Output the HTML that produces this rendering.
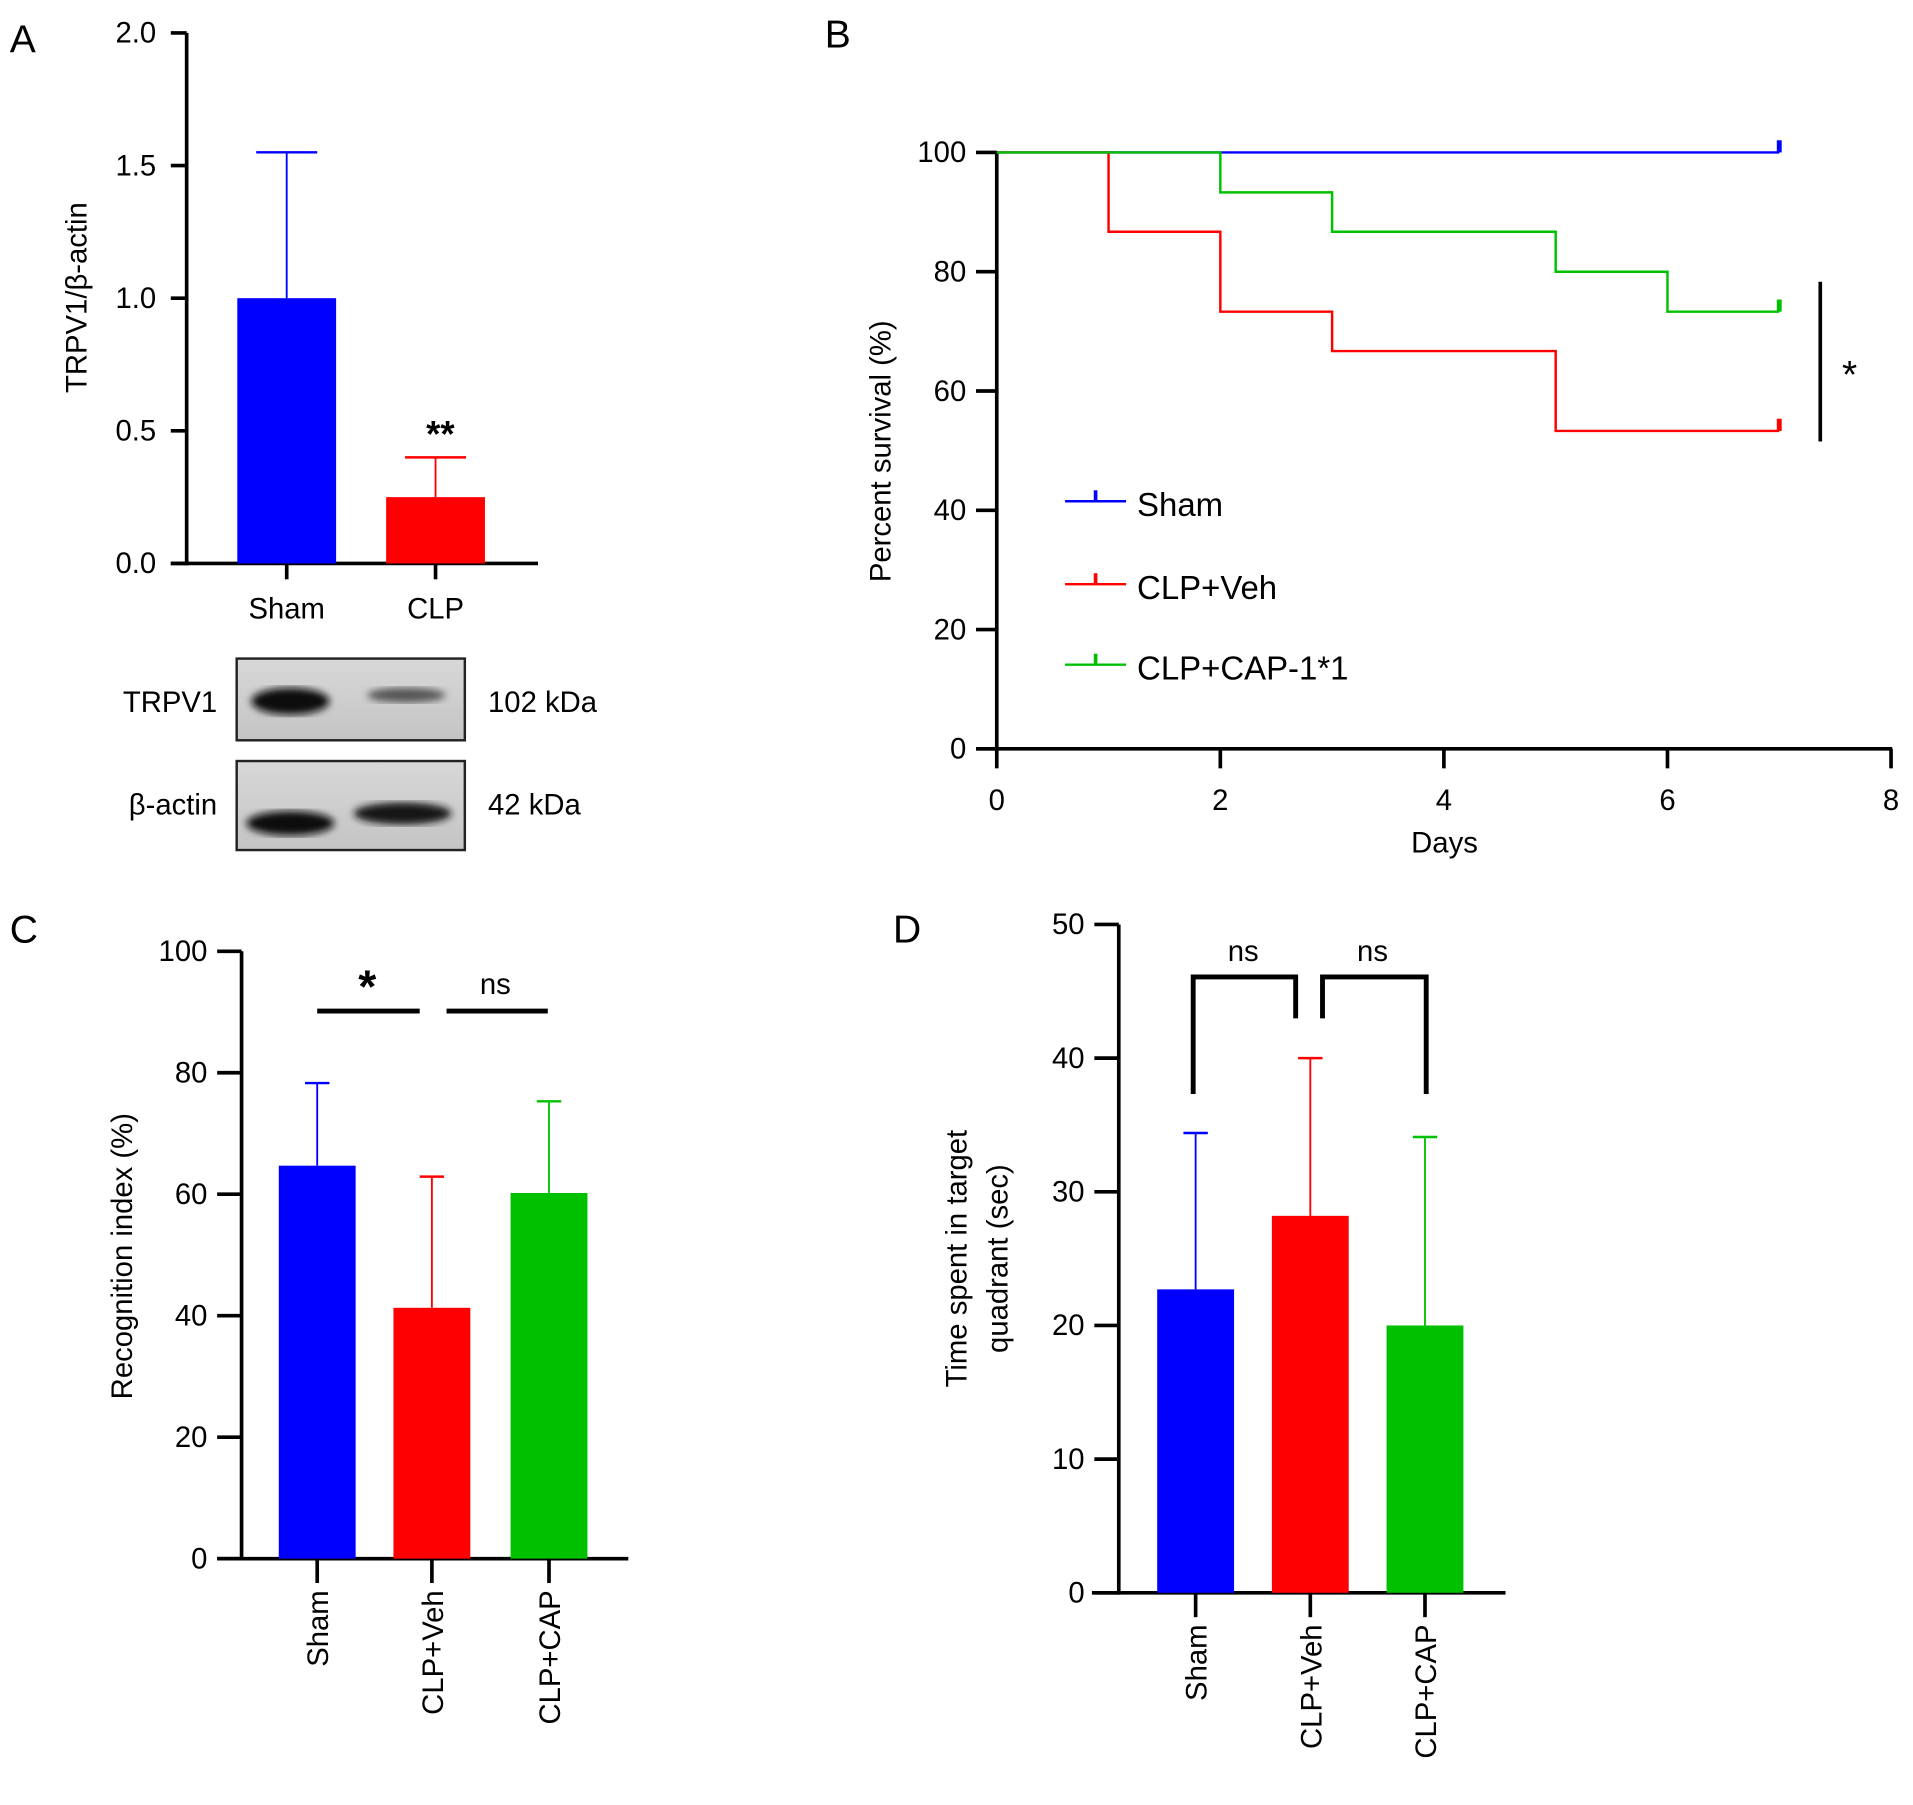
<!DOCTYPE html>
<html><head><meta charset="utf-8"><style>
html,body{margin:0;padding:0;background:#fff;}
svg{display:block;font-family:"Liberation Sans",sans-serif;}
.n{font-family:"Liberation Sans Narrow","Liberation Sans",sans-serif;}
</style></head><body>
<svg id="fig" width="1913" height="1805" viewBox="0 0 1568 1480" preserveAspectRatio="none" xmlns="http://www.w3.org/2000/svg">
<defs>
<linearGradient id="blotbg" x1="0" y1="0" x2="0" y2="1"><stop offset="0" stop-color="#d8d8d8"/><stop offset="1" stop-color="#c4c4c4"/></linearGradient>
<filter id="blur"><feGaussianBlur stdDeviation="3"/></filter>
</defs>
<text x="8" y="43" font-size="32">A</text>
<text x="676" y="39" font-size="32">B</text>
<text x="8" y="773" font-size="32">C</text>
<text x="732" y="773" font-size="32">D</text>
<g id="gA"></g>
<g>
 <rect x="194" y="540" width="187" height="67" fill="url(#blotbg)" stroke="#222" stroke-width="2"/>
 <rect x="194" y="624" width="187" height="73" fill="url(#blotbg)" stroke="#222" stroke-width="2"/>
 <ellipse cx="238" cy="575" rx="32" ry="11" fill="#111" filter="url(#blur)"/>
 <ellipse cx="333" cy="570" rx="32" ry="6" fill="#555" filter="url(#blur)"/>
 <ellipse cx="238" cy="675" rx="36" ry="10" fill="#111" filter="url(#blur)"/>
 <ellipse cx="330" cy="667" rx="40" ry="9" fill="#151515" filter="url(#blur)"/>
 <text x="178" y="584" font-size="24" text-anchor="end">TRPV1</text>
 <text x="178" y="668" font-size="24" text-anchor="end">β-actin</text>
 <text x="400" y="584" font-size="24">102 kDa</text>
 <text x="400" y="668" font-size="24">42 kDa</text>
</g>
<g id="gB"></g>
<g id="gC"></g>
<g id="gD"></g>
</svg>
<script>
// Panel A data
const aCats = ["Sham", "CLP"];
const aVals = [1.0, 0.25];
const aErr = [1.55, 0.40];
const aTicks = [0, 0.5, 1.0, 1.5, 2.0];
// Panel B data
const bDays = [0, 2, 4, 6, 8];
const bPct = [0, 20, 40, 60, 80, 100];
const shamT = [0, 7];
const shamS = [100, 100];
const vehT = [0, 1, 2, 3, 5, 7];
const vehS = [100, 86.7, 73.3, 66.7, 53.3, 53.3];
const capT = [0, 2, 3, 5, 6, 7];
const capS = [100, 93.3, 86.7, 80, 73.3, 73.3];
// Panel C data
const cCats = ["Sham", "CLP+Veh", "CLP+CAP"];
const cVals = [64.7, 41.3, 60.2];
const cErr = [78.3, 62.9, 75.3];
const cTicks = [0, 20, 40, 60, 80, 100];
// Panel D data
const dCats = ["Sham", "CLP+Veh", "CLP+CAP"];
const dVals = [22.7, 28.2, 20.0];
const dErr = [34.4, 40.0, 34.1];
const dTicks = [0, 10, 20, 30, 40, 50];

const NS = "http://www.w3.org/2000/svg";
function mk(parent, tag, attrs, text) {
  const e = document.createElementNS(NS, tag);
  for (const k in attrs) e.setAttribute(k, attrs[k]);
  if (text !== undefined) e.textContent = text;
  parent.appendChild(e);
  return e;
}
const colors = ["#0000ff", "#ff0000", "#00c000"];

function barPanel(g, o) {
  const y = v => o.y0 - (v - o.vmin) / (o.vmax - o.vmin) * (o.y0 - o.y1);
  let e = mk(g, "line", {x1:o.ax, y1:o.y1, x2:o.ax, y2:o.y0+1.5, stroke:"#000","stroke-width":3});
  
  
  e = mk(g, "line", {x1:o.xa0, y1:o.y0, x2:o.xa1, y2:o.y0, stroke:"#000","stroke-width":3});
  
  
  o.ticks.forEach(t => {
    const ty = y(t);
    let l = mk(g, "line", {x1:o.ax-o.tl, y1:ty, x2:o.ax, y2:ty, stroke:"#000","stroke-width":3});
    
    
    let tx = mk(g, "text", {x:o.ax-o.lo, y:ty+8, "font-size":o.fs, "text-anchor":"end", class:o.cls||""}, o.fmt(t));
    
    
  });
  o.cats.forEach((c, i) => {
    const cx = o.cx[i];
    const top = y(o.vals[i]), et = y(o.err[i]);
    let l = mk(g, "line", {x1:cx, y1:et, x2:cx, y2:top, stroke:colors[i], "stroke-width":1.5});
    
    
    l = mk(g, "line", {x1:cx-o.cap, y1:et, x2:cx+o.cap, y2:et, stroke:colors[i], "stroke-width":2});
    
    
    let r = mk(g, "rect", {x:cx-o.bw/2, y:top, width:o.bw, height:o.y0-top, fill:colors[i]});
    
    
    l = mk(g, "line", {x1:cx, y1:o.y0, x2:cx, y2:o.y0+o.tl, stroke:"#000","stroke-width":3});
    
    
    let t;
    if (o.rot) {
      t = mk(g, "text", {x:0, y:0, "font-size":o.fs, "text-anchor":"end", transform:`translate(${cx+9},${o.y0+26}) rotate(-90)`}, c);
    } else {
      t = mk(g, "text", {x:cx, y:o.y0+45, "font-size":o.fs, "text-anchor":"middle"}, c);
    }
    
    
  });
  return y;
}

// Panel A
(function(){
  const g = document.getElementById("gA");
  barPanel(g, {ax:153, y0:462, y1:27, vmin:0, vmax:2, xa0:140, xa1:441, ticks:aTicks, fmt:t=>t.toFixed(1), fs:24, tl:13, lo:25,
    cats:aCats, vals:aVals, err:aErr, cx:[235,357], bw:81, cap:25, rot:false});
  let t = mk(g, "text", {x:0, y:0, "font-size":24, "text-anchor":"middle", transform:"translate(71,244) rotate(-90)"}, "TRPV1/β-actin");
  
  
  t = mk(g, "text", {x:361, y:366, "font-size":30, "font-weight":"bold", "text-anchor":"middle"}, "**");
  
  
})();

// Panel B
(function(){
  const g = document.getElementById("gB");
  const X = d => 817 + d * (1550 - 817) / 8;
  const Y = p => 614 - p * (614 - 125) / 100;
  let e = mk(g, "line", {x1:817, y1:124, x2:817, y2:615, stroke:"#000","stroke-width":3});
  
  
  e = mk(g, "line", {x1:800, y1:614, x2:1551, y2:614, stroke:"#000","stroke-width":3});
  
  
  bPct.forEach(p => {
    let l = mk(g, "line", {x1:800, y1:Y(p), x2:817, y2:Y(p), stroke:"#000","stroke-width":3});
    
    
    let t = mk(g, "text", {x:792, y:Y(p)+8, "font-size":24, "text-anchor":"end", class:"n"}, p);
    
    
  });
  bDays.forEach(d => {
    let l = mk(g, "line", {x1:X(d), y1:614, x2:X(d), y2:630, stroke:"#000","stroke-width":3});
    
    
    let t = mk(g, "text", {x:X(d), y:664, "font-size":24, "text-anchor":"middle", class:"n"}, d);
    
    
  });
  let t = mk(g, "text", {x:1184, y:699, "font-size":24, "text-anchor":"middle", class:"n"}, "Days");
  
  
  t = mk(g, "text", {x:0, y:0, "font-size":24, "text-anchor":"middle", class:"n", transform:"translate(730,370) rotate(-90)"}, "Percent survival (%)");
  
  
  const series = [[shamT, shamS, "sham"], [vehT, vehS, "clp-veh"], [capT, capS, "clp-cap"]];
  series.forEach((s, i) => {
    let d = `M${X(s[0][0])},${Y(s[1][0])}`;
    for (let k = 1; k < s[0].length; k++) {
      d += ` H${X(s[0][k])} V${Y(s[1][k])}`;
    }
    let p = mk(g, "path", {d, fill:"none", stroke:colors[i], "stroke-width":2});
    
    
    const last = s[0].length - 1;
    let c = mk(g, "line", {x1:X(s[0][last]), y1:Y(s[1][last]), x2:X(s[0][last]), y2:Y(s[1][last])-10, stroke:colors[i], "stroke-width":4});
    
    
  });
  e = mk(g, "line", {x1:1492, y1:231, x2:1492, y2:362, stroke:"#000","stroke-width":3});
  
  
  t = mk(g, "text", {x:1516, y:318, "font-size":32, "text-anchor":"middle"}, "*");
  
  
  const legNames = ["Sham", "CLP+Veh", "CLP+CAP-1*1"];
  const legY = [411, 479, 545];
  legNames.forEach((n, i) => {
    let l = mk(g, "line", {x1:873, y1:legY[i], x2:923, y2:legY[i], stroke:colors[i], "stroke-width":2});
    
    
    l = mk(g, "line", {x1:898, y1:legY[i], x2:898, y2:legY[i]-9, stroke:colors[i], "stroke-width":3});
    
    
    let tt = mk(g, "text", {x:932, y:legY[i]+12, "font-size":27, class:"n"}, n);
    
    
  });
})();

// Panel C
(function(){
  const g = document.getElementById("gC");
  barPanel(g, {ax:198, y0:1278, y1:780, vmin:0, vmax:100, xa0:178, xa1:515, ticks:cTicks, fmt:t=>t, fs:24, cls:"n", tl:20, lo:28,
    cats:cCats, vals:cVals, err:cErr, cx:[260,354,450], bw:63, cap:10, rot:true});
  let t = mk(g, "text", {x:0, y:0, "font-size":24, "text-anchor":"middle", transform:"translate(108,1030) rotate(-90)"}, "Recognition index (%)");
  
  
  let l = mk(g, "line", {x1:260, y1:829, x2:344, y2:829, stroke:"#000","stroke-width":4});
  
  
  l = mk(g, "line", {x1:366, y1:829, x2:449, y2:829, stroke:"#000","stroke-width":4});
  
  
  t = mk(g, "text", {x:301, y:822, "font-size":38, "font-weight":"bold", "text-anchor":"middle"}, "*");
  
  
  t = mk(g, "text", {x:406, y:815, "font-size":24, "text-anchor":"middle", class:"n"}, "ns");
  
  
})();

// Panel D
(function(){
  const g = document.getElementById("gD");
  barPanel(g, {ax:917, y0:1306, y1:758, vmin:0, vmax:50, xa0:895, xa1:1234, ticks:dTicks, fmt:t=>t, fs:24, cls:"n", tl:20, lo:28,
    cats:dCats, vals:dVals, err:dErr, cx:[980,1074,1168], bw:63, cap:10, rot:true});
  let t = mk(g, "text", {x:0, y:0, "font-size":24, "text-anchor":"middle", transform:"translate(792,1032) rotate(-90)"}, "Time spent in target");
  
  
  t = mk(g, "text", {x:0, y:0, "font-size":24, "text-anchor":"middle", transform:"translate(826,1032) rotate(-90)"}, "quadrant (sec)");
  
  
  let p = mk(g, "path", {d:"M978,897 V801 H1062 V835", fill:"none", stroke:"#000", "stroke-width":4});
  
  
  p = mk(g, "path", {d:"M1084,835 V801 H1169 V897", fill:"none", stroke:"#000", "stroke-width":4});
  
  
  t = mk(g, "text", {x:1019, y:788, "font-size":24, "text-anchor":"middle", class:"n"}, "ns");
  
  
  t = mk(g, "text", {x:1125, y:788, "font-size":24, "text-anchor":"middle", class:"n"}, "ns");
  
  
})();
</script>
</body></html>
